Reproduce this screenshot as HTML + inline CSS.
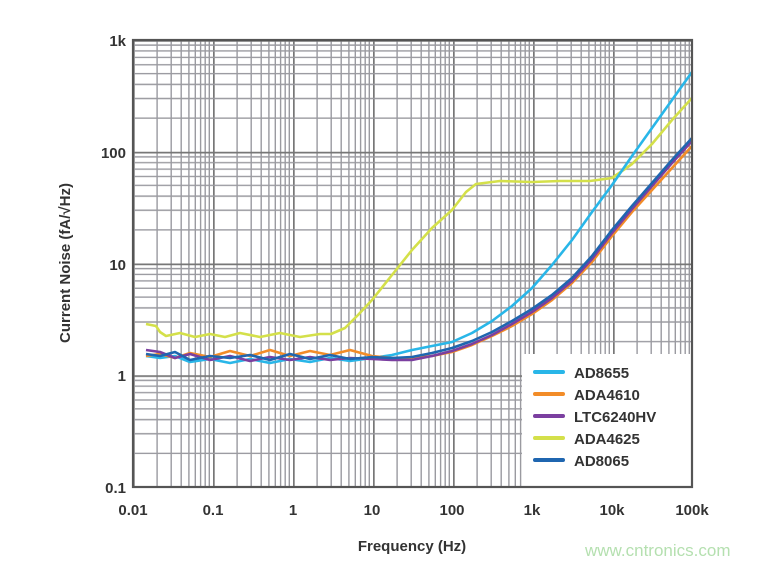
<!DOCTYPE html>
<html><head><meta charset="utf-8"><style>
body{margin:0;background:#fff;width:768px;height:565px;overflow:hidden}
svg text{font-family:"Liberation Sans",sans-serif;font-weight:bold;fill:#333}
</style></head><body>
<svg width="768" height="565" viewBox="0 0 768 565">
<defs>
<pattern id="vx" patternUnits="userSpaceOnUse" x="133" y="0" width="80" height="565">
<g stroke="#9a9aa0" stroke-width="1.4">
<line x1="0.7" y1="0" x2="0.7" y2="565" stroke="#777" stroke-width="2"/>
<line x1="24.1" y1="0" x2="24.1" y2="565"/><line x1="38.2" y1="0" x2="38.2" y2="565"/>
<line x1="48.2" y1="0" x2="48.2" y2="565"/><line x1="55.9" y1="0" x2="55.9" y2="565"/>
<line x1="62.3" y1="0" x2="62.3" y2="565"/><line x1="67.6" y1="0" x2="67.6" y2="565"/>
<line x1="72.2" y1="0" x2="72.2" y2="565"/><line x1="76.3" y1="0" x2="76.3" y2="565"/>
</g></pattern>
<pattern id="hy" patternUnits="userSpaceOnUse" x="0" y="40" width="768" height="111.75">
<g stroke="#9a9aa0" stroke-width="1.4">
<line y1="0.7" x1="0" y2="0.7" x2="768" stroke="#777" stroke-width="2"/>
<line y1="5.1" x1="0" y2="5.1" x2="768"/><line y1="10.9" x1="0" y2="10.9" x2="768"/>
<line y1="17.4" x1="0" y2="17.4" x2="768"/><line y1="24.8" x1="0" y2="24.8" x2="768"/>
<line y1="33.6" x1="0" y2="33.6" x2="768"/><line y1="44.4" x1="0" y2="44.4" x2="768"/>
<line y1="58.5" x1="0" y2="58.5" x2="768"/><line y1="78.1" x1="0" y2="78.1" x2="768"/>
</g></pattern>
<clipPath id="pc"><rect x="133" y="40" width="559" height="447"/></clipPath>
</defs>
<rect x="133" y="40" width="559" height="447" fill="url(#vx)"/>
<rect x="133" y="40" width="559" height="447" fill="url(#hy)"/>
<g clip-path="url(#pc)" fill="none" stroke-width="2.6" stroke-linejoin="round">
<polyline stroke="#d4e04a" points="146,324 156,326 160,332 166,336 180,333 195,337 210,334 225,337 240,333 260,337 280,333 300,337 320,334 331,334 345,328 358,315 372,300 392,275 412,250 432,228 452,210 466,192 476,184 500,181 532,182 560,181 590,181 612,178 632,164 652,144 672,120 692,98"/>
<polyline stroke="#29b6e8" points="146,356 160,358 175,356 190,362 210,359 230,363 250,359 270,363 290,359 310,362 330,358 350,361 372,358 392,355 412,350 432,346 452,342 472,333 492,321 512,306 532,288 552,265 572,240 592,212 612,185 632,156 652,128 672,100 692,72"/>
<polyline stroke="#f28c28" points="146,356 160,354 175,358 190,353 210,357 230,351 250,356 270,350 290,356 310,351 330,355 350,350 372,356 392,358 412,358 432,356 452,352 472,345 492,336 512,326 532,314 552,300 572,283 592,262 612,236 632,212 652,190 672,168 692,146"/>
<polyline stroke="#7b3fa0" points="146,350 160,352 175,358 190,354 210,360 230,356 250,361 270,357 290,360 310,357 330,360 350,358 372,359 392,360 412,360 432,356 452,351 472,344 492,335 512,324 532,312 552,298 572,281 592,259 612,233 632,209 652,186 672,163 692,141"/>
<polyline stroke="#1f66b0" points="146,354 160,356 175,352 190,360 210,356 230,358 250,355 270,360 290,354 310,359 330,355 350,359 372,357 392,358 412,357 432,353 452,348 472,341 492,332 512,321 532,309 552,295 572,278 592,256 612,230 632,206 652,183 672,160 692,138"/>
</g>
<rect x="522" y="354" width="170" height="133" fill="#fff"/>
<rect x="133" y="40" width="559" height="447" fill="none" stroke="#555" stroke-width="2.2"/>
<g stroke-width="4" stroke-linecap="round">
<line x1="535" y1="372" x2="563" y2="372" stroke="#29b6e8"/>
<line x1="535" y1="394" x2="563" y2="394" stroke="#f28c28"/>
<line x1="535" y1="416" x2="563" y2="416" stroke="#7b3fa0"/>
<line x1="535" y1="438" x2="563" y2="438" stroke="#d4e04a"/>
<line x1="535" y1="460" x2="563" y2="460" stroke="#1f66b0"/>
</g>
<g font-size="15">
<text x="574" y="378">AD8655</text><text x="574" y="400">ADA4610</text>
<text x="574" y="422">LTC6240HV</text><text x="574" y="444">ADA4625</text>
<text x="574" y="466">AD8065</text>
</g>
<g font-size="15" text-anchor="end">
<text x="126" y="46">1k</text><text x="126" y="158">100</text><text x="126" y="270">10</text>
<text x="126" y="381">1</text><text x="126" y="493">0.1</text>
</g>
<g font-size="15" text-anchor="middle">
<text x="133" y="515">0.01</text><text x="213" y="515">0.1</text><text x="293" y="515">1</text>
<text x="372" y="515">10</text><text x="452" y="515">100</text><text x="532" y="515">1k</text>
<text x="612" y="515">10k</text><text x="692" y="515">100k</text>
<text x="412" y="551">Frequency (Hz)</text>
<text transform="translate(70,263) rotate(-90)">Current Noise (fA/√Hz)</text>
</g>
<text x="585" y="556" font-size="17" style="font-weight:normal;fill:#b5e0b0">www.cntronics.com</text>
</svg>
</body></html>
